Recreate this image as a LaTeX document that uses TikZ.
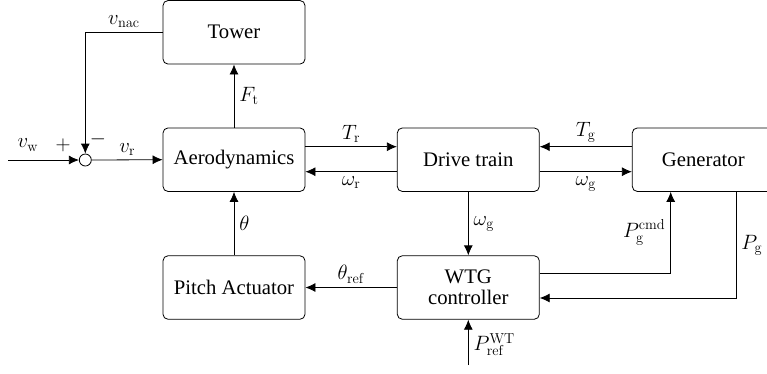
\documentclass[tikz,border=0pt]{standalone}
\usepackage[no-math]{fontspec}
\setmainfont{Liberation Serif}
\usetikzlibrary{arrows.meta}
\tikzset{
  blk/.style={draw, rounded corners=5pt, minimum width=142pt, minimum height=63.5pt, align=center, inner sep=0pt},
  arr/.style={-{Latex[length=10pt,width=9pt]}},
  lbl/.style={inner sep=2pt},
}
\begin{document}
\begin{tikzpicture}[x=1pt, y=-1pt, line width=0.8pt, font=\rmfamily\fontsize{20.7}{24}\selectfont]
\useasboundingbox (0,0) rectangle (767,373);
\clip (0,0) rectangle (767,373);
\node[blk] (tower) at (234,32.3) {Tower};
\node[blk] (aero) at (234,159.7) {Aerodynamics};
\node[blk] (drive) at (468.3,159.7) {Drive train};
\node[blk] (gen) at (703.3,159.7) {Generator};
\node[blk] (pitch) at (234,287.5) {Pitch Actuator};
\node[blk] (wtg) at (468.3,287.5) {WTG\\[-3pt]controller};
\node[draw, circle, minimum size=12pt, inner sep=0pt, line width=0.8pt] (sum) at (85.3,160) {};
\coordinate (vin) at (8,160);
\coordinate (pin) at (468.3,365);
% summing junction
\draw[arr] (vin) -- (sum.west);
\node[lbl] (vw) at (28,145) {$v_{\mathrm{w}}$};
\node[lbl] (plus) at (63,145) {$+$};
\node[lbl] (minus) at (98,139) {$-$};
\draw[arr] (tower.west) -| node[lbl, pos=0.25, above=2pt] {$v_{\mathrm{nac}}$} (sum.north);
\draw[arr] (sum.east) -- node[lbl, midway, above=2pt] {$v_{\mathrm{r}}$} (aero.west);
\draw[arr] (aero.north) -- node[lbl, midway, right=3pt] {$F_{\mathrm{t}}$} (tower.south);
% drive train links
\draw[arr] ([yshift=13pt]aero.east) -- node[lbl, midway, above=2pt] {$T_{\mathrm{r}}$} ([yshift=13pt]drive.west);
\draw[arr] ([yshift=-12pt]drive.west) -- node[lbl, midway, below=2pt] {$\omega_{\mathrm{r}}$} ([yshift=-12pt]aero.east);
\draw[arr] ([yshift=13pt]gen.west) -- node[lbl, midway, above=2pt] {$T_{\mathrm{g}}$} ([yshift=13pt]drive.east);
\draw[arr] ([yshift=-12pt]drive.east) -- node[lbl, midway, below=2pt] {$\omega_{\mathrm{g}}$} ([yshift=-12pt]gen.west);
\draw[arr] (drive.south) -- node[lbl, midway, right=3pt] {$\omega_{\mathrm{g}}$} (wtg.north);
% controller
\draw[arr] ([yshift=14.5pt]wtg.east) -| node[lbl, pos=0.75, left=3pt] {$P_{\mathrm{g}}^{\mathrm{cmd}}$} ([xshift=-32.6pt]gen.south);
\draw[arr] ([xshift=32.7pt]gen.south) |- node[lbl, pos=0.25, right=3pt] {$P_{\mathrm{g}}$} ([yshift=-10.5pt]wtg.east);
\draw[arr] (wtg.west) -- node[lbl, midway, above=2pt] {$\theta_{\mathrm{ref}}$} (pitch.east);
\draw[arr] (pitch.north) -- node[lbl, midway, right=3pt] {$\theta$} (aero.south);
\draw[arr] (pin) -- node[lbl, pos=0.45, right=3pt] {$P_{\mathrm{ref}}^{\mathrm{WT}}$} (wtg.south);
\end{tikzpicture}
\end{document}
